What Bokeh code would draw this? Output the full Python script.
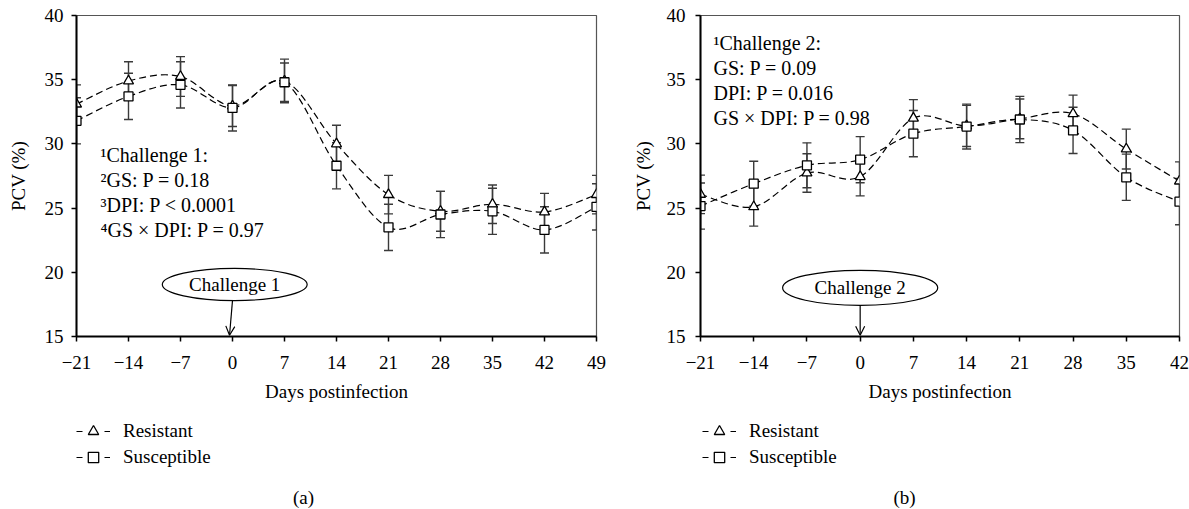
import numpy as np
from bokeh.plotting import figure
from bokeh.layouts import row, column
from bokeh.models import (ColumnDataSource, Whisker, TeeHead, FixedTicker, Label,
                          Legend, LegendItem, Arrow, OpenHead, Range1d)
from bokeh.embed import file_html
from bokeh.resources import INLINE

# ---------------- data ----------------
days_a = [-21, -14, -7, 0, 7, 14, 21, 28, 35, 42, 49]
resistant_a = [33.1, 34.9, 35.25, 32.95, 34.9, 30.0, 26.05, 24.75, 25.3, 24.7, 26.05]
resistant_a_se = [1.5, 1.5, 1.55, 1.6, 1.7, 1.45, 1.5, 1.55, 1.5, 1.45, 1.5]
susceptible_a = [31.8, 33.7, 34.6, 32.8, 34.8, 28.3, 23.5, 24.5, 24.75, 23.3, 25.1]
susceptible_a_se = [1.8, 1.8, 1.8, 1.8, 1.5, 1.8, 1.8, 1.8, 1.8, 1.8, 1.8]

days_b = [-21, -14, -7, 0, 7, 14, 21, 28, 35, 42]
resistant_b = [26.07, 25.1, 27.73, 27.45, 32.0, 31.4, 31.95, 32.35, 29.6, 27.1]
resistant_b_se = [1.5, 1.5, 1.5, 1.5, 1.45, 1.6, 1.55, 1.45, 1.55, 1.5]
susceptible_b = [25.16, 26.9, 28.33, 28.77, 30.8, 31.35, 31.9, 31.05, 27.4, 25.5]
susceptible_b_se = [1.8, 1.75, 1.75, 1.8, 1.8, 1.75, 1.8, 1.8, 1.8, 1.8]

x_tick_labels_a = ["\u221221", "\u221214", "\u22127", "0", "7", "14", "21", "28", "35", "42", "49"]
x_tick_labels_b = ["\u221221", "\u221214", "\u22127", "0", "7", "14", "21", "28", "35", "42"]
y_ticks = [15, 20, 25, 30, 35, 40]

series_names = ["Resistant", "Susceptible"]
stats_a = ["\u00b9Challenge 1:", "\u00b2GS: P = 0.18", "\u00b3DPI: P < 0.0001", "\u2074GS \u00d7 DPI: P = 0.97"]
stats_b = ["\u00b9Challenge 2:", "GS: P = 0.09", "DPI: P = 0.016", "GS \u00d7 DPI: P = 0.98"]

FONT = "Liberation Serif"
EB_COLOR = "#3a3a3a"
PLOT_H = 408
FOOT_H = 101


def bezier_source(x, y):
    x = np.asarray(x, float)
    y = np.asarray(y, float)
    n = len(x)
    xp = np.concatenate([x[:1], x, x[-1:]])
    yp = np.concatenate([y[:1], y, y[-1:]])
    return ColumnDataSource(dict(
        x0=x[:-1], y0=y[:-1], x1=x[1:], y1=y[1:],
        cx0=x[:-1] + (xp[2:n + 1] - xp[0:n - 1]) / 6.0,
        cy0=y[:-1] + (yp[2:n + 1] - yp[0:n - 1]) / 6.0,
        cx1=x[1:] - (xp[3:n + 2] - xp[1:n]) / 6.0,
        cy1=y[1:] - (yp[3:n + 2] - yp[1:n]) / 6.0,
    ))


def make_panel(days, res, res_se, sus, sus_se, x_labels, stats, challenge,
               width, border_left, border_right, tick_standoff, axlab_standoff,
               ell, arrow_pts, stats_pos):
    p = figure(width=width, height=PLOT_H,
               x_range=Range1d(days[0], days[-1]), y_range=Range1d(y_ticks[0], y_ticks[-1]),
               output_backend="svg", toolbar_location=None,
               min_border_left=border_left, min_border_right=border_right,
               min_border_top=15, min_border_bottom=72)
    p.xgrid.visible = False
    p.ygrid.visible = False
    p.background_fill_color = "white"
    p.border_fill_color = "white"
    p.outline_line_color = "#555555"
    p.outline_line_width = 1.2

    p.xaxis.ticker = FixedTicker(ticks=days)
    p.xaxis.major_label_overrides = {d: lab for d, lab in zip(days, x_labels)}
    p.yaxis.ticker = FixedTicker(ticks=y_ticks)
    p.xaxis.axis_label = "Days postinfection"
    p.yaxis.axis_label = "PCV (%)"
    for ax in (p.xaxis[0], p.yaxis[0]):
        ax.axis_line_color = "black"
        ax.axis_line_width = 2
        ax.major_tick_line_color = "black"
        ax.major_tick_line_width = 1.5
        ax.major_tick_out = 5
        ax.major_tick_in = 0
        ax.minor_tick_line_color = None
        ax.major_label_text_font = FONT
        ax.major_label_text_font_size = "19px"
        ax.major_label_text_color = "black"
        ax.axis_label_text_font = FONT
        ax.axis_label_text_font_size = "19px"
        ax.axis_label_text_font_style = "normal"
        ax.axis_label_text_color = "black"
    p.xaxis.major_label_standoff = 14
    p.xaxis.axis_label_standoff = 9
    p.yaxis.major_label_standoff = tick_standoff
    p.yaxis.axis_label_standoff = axlab_standoff

    # error bars
    for vals, se in ((res, res_se), (sus, sus_se)):
        src = ColumnDataSource(dict(x=days,
                                    lower=[v - s for v, s in zip(vals, se)],
                                    upper=[v + s for v, s in zip(vals, se)]))
        w = Whisker(source=src, base="x", lower="lower", upper="upper", level="underlay",
                    line_color=EB_COLOR, line_width=1.4,
                    upper_head=TeeHead(size=9, line_color=EB_COLOR, line_width=1.4),
                    lower_head=TeeHead(size=9, line_color=EB_COLOR, line_width=1.4))
        p.add_layout(w)

    # smoothed dashed lines
    for vals in (res, sus):
        p.bezier(x0="x0", y0="y0", x1="x1", y1="y1", cx0="cx0", cy0="cy0",
                 cx1="cx1", cy1="cy1", source=bezier_source(days, vals),
                 line_color="black", line_width=1.2, line_dash="7 4")

    p.scatter("x", "y", source=ColumnDataSource(dict(x=days, y=res)),
              marker="triangle", size=10, fill_color="white",
              line_color="black", line_width=1.3)
    p.scatter("x", "y", source=ColumnDataSource(dict(x=days, y=sus)),
              marker="square", size=9, fill_color="white",
              line_color="black", line_width=1.3)

    # callout
    p.ellipse(x=ell[0], y=ell[1], width=ell[2], height=ell[3],
              fill_color="white", line_color="black", line_width=1.2)
    p.add_layout(Label(x=ell[0], y=ell[1], text=challenge, text_align="center",
                       text_baseline="middle", text_font=FONT, text_font_size="19px",
                       text_color="black"))
    p.add_layout(Arrow(x_start=arrow_pts[0], y_start=arrow_pts[1],
                       x_end=arrow_pts[2], y_end=arrow_pts[3],
                       line_color="black", line_width=1.2,
                       end=OpenHead(size=9, line_color="black", line_width=1.2)))

    # statistics text
    p.add_layout(Label(x=stats_pos[0], y=stats_pos[1], x_units="screen", y_units="screen",
                       text="\n".join(stats), text_font=FONT, text_font_size="20px",
                       text_baseline="top", text_align="left", text_line_height=1.15,
                       text_color="black"))
    return p


def make_footer(width, days, res, sus, legend_x, caption, caption_x):
    # The footer strip holds only the legend and the caption; its (0..1) ranges keep
    # the series renderers (used as legend keys) outside the visible frame.
    q = figure(width=width, height=FOOT_H, x_range=Range1d(100, 101), y_range=Range1d(100, 101),
               output_backend="svg", toolbar_location=None,
               x_axis_type=None, y_axis_type=None,
               min_border_left=0, min_border_right=0, min_border_top=0, min_border_bottom=0)
    q.xgrid.visible = False
    q.ygrid.visible = False
    q.outline_line_color = None
    q.background_fill_color = "white"
    q.border_fill_color = "white"
    leg_line = q.line(x=days, y=res, line_color="black", line_width=1.2, line_dash="6 22")
    leg_tri = q.scatter(x=days, y=res, marker="triangle", fill_color="white",
                        line_color="black", line_width=1.3)
    leg_sq = q.scatter(x=days, y=sus, marker="square", fill_color="white",
                       line_color="black", line_width=1.3)
    legend = Legend(items=[LegendItem(label=series_names[0], renderers=[leg_line, leg_tri]),
                           LegendItem(label=series_names[1], renderers=[leg_line, leg_sq])],
                    location=(legend_x, 39), orientation="vertical",
                    glyph_width=34, glyph_height=26, label_standoff=13,
                    spacing=0, padding=0, margin=0,
                    border_line_color=None, background_fill_alpha=0,
                    label_text_font=FONT, label_text_font_size="19px",
                    label_text_color="black")
    q.add_layout(legend)
    q.add_layout(Label(x=caption_x, y=12, x_units="screen", y_units="screen",
                       text=caption, text_align="center", text_baseline="middle",
                       text_font=FONT, text_font_size="19px", text_color="black"))
    return q


p1 = make_panel(days_a, resistant_a, resistant_a_se, susceptible_a, susceptible_a_se,
                x_tick_labels_a, stats_a, "Challenge 1",
                width=608, border_left=76, border_right=12,
                tick_standoff=8, axlab_standoff=13,
                ell=(0.3, 19.05, 19.5, 2.5), arrow_pts=(0.0, 17.8, -0.4, 15.1),
                stats_pos=(24, 193))

p2 = make_panel(days_b, resistant_b, resistant_b_se, susceptible_b, susceptible_b_se,
                x_tick_labels_b, stats_b, "Challenge 2",
                width=581, border_left=92, border_right=10,
                tick_standoff=10, axlab_standoff=10,
                ell=(0.0, 18.79, 20.4, 2.73), arrow_pts=(0.0, 17.42, 0.0, 15.1),
                stats_pos=(13, 305))

q1 = make_footer(608, days_a, resistant_a, susceptible_a, 76, "(a)", 303)
q2 = make_footer(581, days_b, resistant_b, susceptible_b, 94, "(b)", 296)

layout = column(row(p1, p2), row(q1, q2))
with open("out.html", "w") as f:
    f.write(file_html(layout, INLINE, title="PCV"))
